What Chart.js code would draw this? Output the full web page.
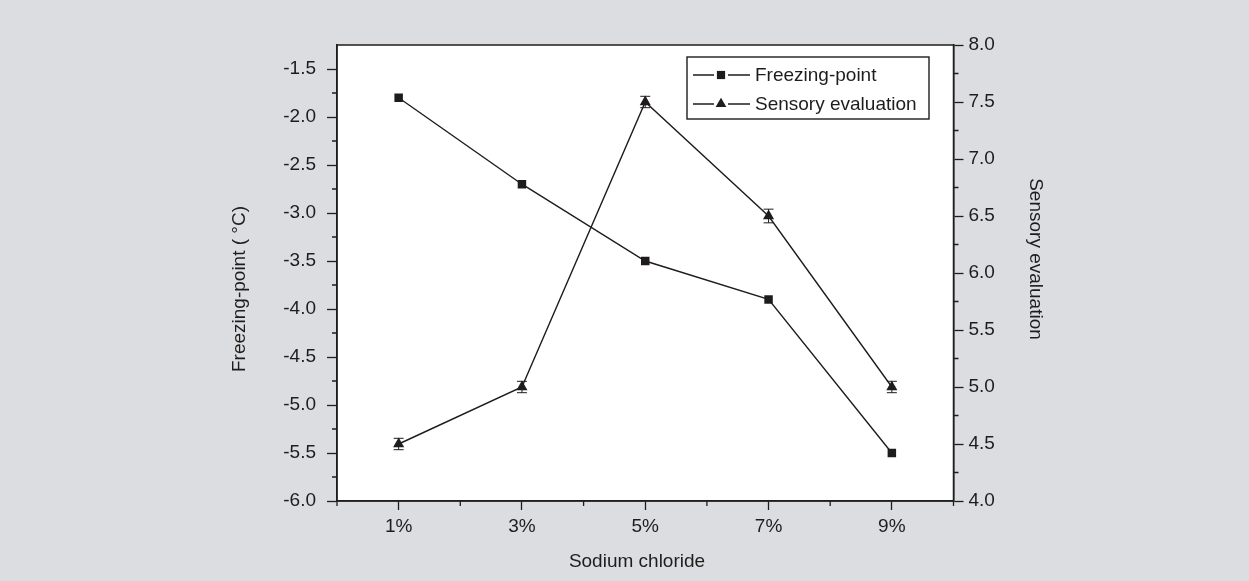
<!DOCTYPE html>
<html>
<head>
<meta charset="utf-8">
<title>Sodium chloride: freezing-point and sensory evaluation</title>
<script src="https://cdn.jsdelivr.net/npm/chart.js@4.4.0/dist/chart.umd.min.js"></script>
<style>
  html, body { margin: 0; padding: 0; background: #dcdde0; }
  #wrap { width: 1249px; height: 581px; position: relative; }
  canvas { display: block; }
</style>
</head>
<body>
<div id="wrap"><canvas id="chart" width="1249" height="581"></canvas></div>
<script>
// ---- data ----
const categories = ['1%', '3%', '5%', '7%', '9%'];
const freezingPoint = [-1.8, -2.7, -3.5, -3.9, -5.5];
const freezingErr = [0.03, 0.03, 0.03, 0.03, 0.03];
const sensoryScore = [4.5, 5.0, 7.5, 6.5, 5.0];
const sensoryErr = [0.05, 0.05, 0.05, 0.06, 0.05];

// axis ranges and tick step
const freezingRange = [-6.0, -1.25];
const sensoryRange = [4.0, 8.0];
const tickStep = 0.5;

const axisTitles = {
  x: 'Sodium chloride',
  left: 'Freezing-point ( °C)',
  right: 'Sensory evaluation'
};

// ---- styling ----
const INK = '#1f1c1d';
const PAGE = '#dcdde0';
const FONT = "'Liberation Sans', Arial, Helvetica, sans-serif";
const FONT_SIZE = 19;

Chart.defaults.font.family = FONT;
Chart.defaults.font.size = FONT_SIZE;
Chart.defaults.color = INK;

// page background and white plotting area
const backdrop = {
  id: 'backdrop',
  beforeDraw(chart) {
    const { ctx, chartArea: a } = chart;
    ctx.save();
    ctx.fillStyle = PAGE;
    ctx.fillRect(0, 0, chart.width, chart.height);
    ctx.fillStyle = '#ffffff';
    ctx.fillRect(a.left, a.top, a.right - a.left, a.bottom - a.top);
    ctx.restore();
  }
};

// closed frame round the plotting area plus the short minor ticks
const frameAndMinorTicks = {
  id: 'frameAndMinorTicks',
  afterDraw(chart) {
    const { ctx, chartArea: a, scales } = chart;
    ctx.save();
    ctx.strokeStyle = INK;
    ctx.lineWidth = 1.5;
    ctx.strokeRect(a.left, a.top, a.right - a.left, a.bottom - a.top);

    ctx.lineWidth = 1.3;
    ctx.beginPath();
    const minorLen = 5;
    for (let v = freezingRange[0] + tickStep / 2; v < freezingRange[1]; v += tickStep) {
      const y = scales.yL.getPixelForValue(v);
      ctx.moveTo(a.left - minorLen, y); ctx.lineTo(a.left, y);
    }
    for (let v = sensoryRange[0] + tickStep / 2; v < sensoryRange[1]; v += tickStep) {
      const y = scales.yR.getPixelForValue(v);
      ctx.moveTo(a.right, y); ctx.lineTo(a.right + minorLen, y);
    }
    for (let i = -0.5; i <= categories.length - 0.5; i += 1) {
      const x = scales.x.getPixelForValue(i);
      ctx.moveTo(x, a.bottom); ctx.lineTo(x, a.bottom + minorLen);
    }
    ctx.stroke();
    ctx.restore();
  }
};

// vertical error bars with caps
const errorBars = {
  id: 'errorBars',
  afterDatasetsDraw(chart) {
    const { ctx } = chart;
    ctx.save();
    ctx.strokeStyle = INK;
    ctx.lineWidth = 1;
    chart.data.datasets.forEach((ds, i) => {
      if (!ds.errors) return;
      const meta = chart.getDatasetMeta(i);
      const scale = chart.scales[ds.yAxisID];
      const half = ds.capHalfWidth;
      meta.data.forEach((pt, j) => {
        const v = ds.data[j], e = ds.errors[j];
        const yTop = scale.getPixelForValue(v + e);
        const yBot = scale.getPixelForValue(v - e);
        ctx.beginPath();
        ctx.moveTo(pt.x, yTop); ctx.lineTo(pt.x, yBot);
        ctx.moveTo(pt.x - half, yTop); ctx.lineTo(pt.x + half, yTop);
        ctx.moveTo(pt.x - half, yBot); ctx.lineTo(pt.x + half, yBot);
        ctx.stroke();
      });
    });
    ctx.restore();
  }
};

// axis titles
const titles = {
  id: 'titles',
  afterDraw(chart) {
    const { ctx } = chart;
    ctx.save();
    ctx.fillStyle = INK;
    ctx.font = FONT_SIZE + 'px ' + FONT;
    ctx.textAlign = 'center';
    ctx.textBaseline = 'middle';
    ctx.fillText(axisTitles.x, 637, 562);

    ctx.translate(240, 289);
    ctx.rotate(-Math.PI / 2);
    ctx.fillText(axisTitles.left, 0, 0);
    ctx.restore();

    ctx.save();
    ctx.fillStyle = INK;
    ctx.font = FONT_SIZE + 'px ' + FONT;
    ctx.textAlign = 'center';
    ctx.textBaseline = 'middle';
    ctx.translate(1035, 259);
    ctx.rotate(Math.PI / 2);
    ctx.fillText(axisTitles.right, 0, 0);
    ctx.restore();
  }
};

// boxed legend with line-and-marker samples
const boxedLegend = {
  id: 'boxedLegend',
  afterDraw(chart) {
    const { ctx } = chart;
    const box = { x: 687, y: 57, w: 242, h: 62 };
    ctx.save();
    ctx.fillStyle = '#ffffff';
    ctx.fillRect(box.x, box.y, box.w, box.h);
    ctx.strokeStyle = INK;
    ctx.lineWidth = 1.4;
    ctx.strokeRect(box.x, box.y, box.w, box.h);

    const rows = [75, 104];
    chart.data.datasets.forEach((ds, i) => {
      const y = rows[i];
      const mx = 721;
      ctx.strokeStyle = INK;
      ctx.lineWidth = 1.4;
      ctx.beginPath();
      ctx.moveTo(693, y); ctx.lineTo(714, y);
      ctx.moveTo(728, y); ctx.lineTo(750, y);
      ctx.stroke();
      ctx.fillStyle = INK;
      Chart.helpers.drawPoint(ctx, {
        pointStyle: ds.pointStyle,
        radius: ds.pointStyle === 'rect' ? 5.8 : 6.2,
        borderWidth: 0,
        rotation: 0
      }, mx, y);
      ctx.fillStyle = INK;
      ctx.font = FONT_SIZE + 'px ' + FONT;
      ctx.textAlign = 'left';
      ctx.textBaseline = 'middle';
      ctx.fillText(ds.label, 755, y + 1);
    });
    ctx.restore();
  }
};

const ctx = document.getElementById('chart').getContext('2d');
new Chart(ctx, {
  type: 'line',
  data: {
    labels: categories,
    datasets: [
      {
        label: 'Freezing-point',
        data: freezingPoint,
        errors: freezingErr,
        capHalfWidth: 3.5,
        yAxisID: 'yL',
        borderColor: INK,
        borderWidth: 1.4,
        tension: 0,
        pointStyle: 'rect',
        pointRadius: 6,
        pointBackgroundColor: INK,
        pointBorderColor: INK,
        pointBorderWidth: 0
      },
      {
        label: 'Sensory evaluation',
        data: sensoryScore,
        errors: sensoryErr,
        capHalfWidth: 5,
        yAxisID: 'yR',
        borderColor: INK,
        borderWidth: 1.4,
        tension: 0,
        pointStyle: 'triangle',
        pointRadius: 6.4,
        pointBackgroundColor: INK,
        pointBorderColor: INK,
        pointBorderWidth: 0
      }
    ]
  },
  options: {
    responsive: false,
    animation: false,
    devicePixelRatio: 1,
    layout: { padding: { top: 45, left: 0, right: 0, bottom: 0 } },
    plugins: {
      legend: { display: false },
      tooltip: { enabled: false },
      title: { display: false }
    },
    scales: {
      x: {
        type: 'category',
        offset: true,
        grid: {
          offset: false,
          drawOnChartArea: false,
          drawTicks: true,
          tickLength: 9,
          tickWidth: 1.3,
          tickColor: INK,
          color: INK
        },
        border: { display: true, color: INK, width: 1.5 },
        ticks: { padding: 5, autoSkip: false, maxRotation: 0, color: INK },
        afterFit(scale) { scale.height = 80; }
      },
      yL: {
        type: 'linear',
        position: 'left',
        min: freezingRange[0],
        max: freezingRange[1],
        grid: {
          drawOnChartArea: false,
          drawTicks: true,
          tickLength: 10,
          tickWidth: 1.3,
          tickColor: INK,
          color: INK
        },
        border: { display: true, color: INK, width: 1.5 },
        ticks: {
          stepSize: tickStep,
          includeBounds: false,
          padding: 11,
          color: INK,
          callback: v => Number(v).toFixed(1)
        },
        afterFit(scale) { scale.width = 337; }
      },
      yR: {
        type: 'linear',
        position: 'right',
        min: sensoryRange[0],
        max: sensoryRange[1],
        grid: {
          drawOnChartArea: false,
          drawTicks: true,
          tickLength: 10,
          tickWidth: 1.3,
          tickColor: INK,
          color: INK
        },
        border: { display: true, color: INK, width: 1.5 },
        ticks: {
          stepSize: tickStep,
          padding: 5,
          color: INK,
          callback: v => Number(v).toFixed(1)
        },
        afterFit(scale) { scale.width = 1249 - 953.5; }
      }
    }
  },
  plugins: [backdrop, errorBars, frameAndMinorTicks, titles, boxedLegend]
});
</script>
</body>
</html>
